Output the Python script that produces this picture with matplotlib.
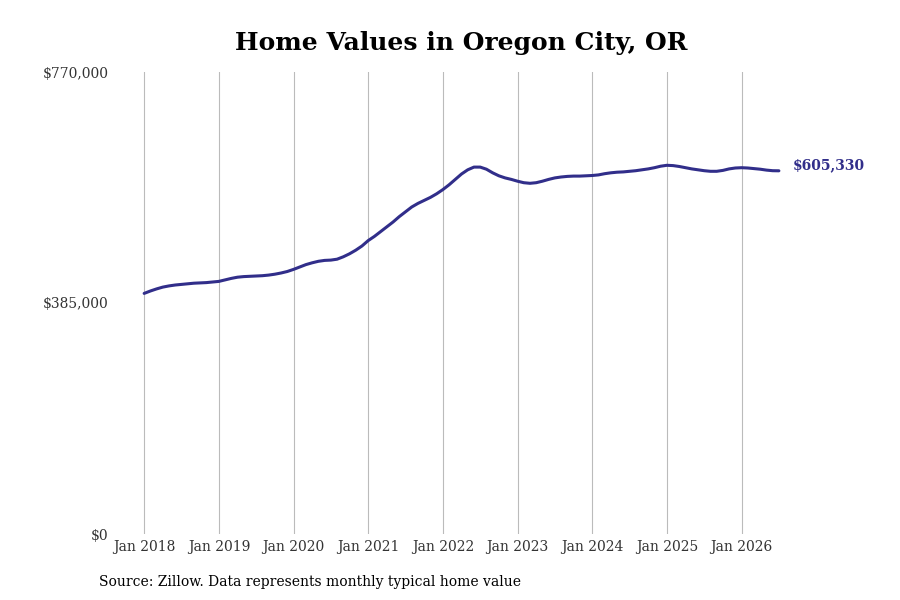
import numpy as np
import matplotlib
matplotlib.use("Agg")
import matplotlib.pyplot as plt

# valores mensuales (miles de USD), ene 2018 - jul 2026
v2018 = [401, 405, 408.5, 411.5, 413.5, 415, 416, 417, 418, 418.5, 419, 420]
v2019 = [421, 423.5, 426, 428, 429, 429.5, 430, 430.5, 431.5, 433, 435, 437.5]
v2020 = [441, 445, 449, 452, 454.5, 456, 456.5, 458, 462, 467, 473, 480]
v2021 = [489, 496, 504, 512, 520, 529, 537, 545, 551, 556, 561, 567]
v2022 = [574, 582, 591, 600, 607, 611.5, 611.5, 608, 602, 597, 593.5, 591]
v2023 = [588, 585.5, 584.5, 585.5, 588, 591, 593.5, 595, 596, 596.5, 596.5, 597]
v2024 = [597.5, 598.5, 600.5, 602, 603, 603.5, 604.5, 605.5, 607, 608.5, 610.5, 613]
v2025 = [614.5, 614, 612.5, 610.5, 608.5, 607, 605.5, 604.5, 604.5, 606, 608.5, 610]
v2026 = [610.5, 610, 609, 608, 606.5, 605.5, 605.33]

valores = np.array(v2018 + v2019 + v2020 + v2021 + v2022 + v2023 + v2024 + v2025 + v2026) * 1000
meses = np.arange(len(valores))  # meses desde ene 2018

anios = list(range(2018, 2027))
etiquetas_x = [f"Jan {a}" for a in anios]
ticks_y = [0, 385000, 770000]
ultimo = "$605,330"

color_linea = "#312e8a"

plt.rcParams['font.family'] = ['DejaVu Serif']

fig = plt.figure(figsize=(9, 6), dpi=100)
ax = fig.add_axes([0.1256, 0.11, 0.7744, 0.77])

ax.plot(meses, valores, color=color_linea, lw=2.2, solid_capstyle='round')

ax.set_ylim(0, 770000)
ax.set_xlim(-5, 107)
ax.set_yticks(ticks_y)
ax.set_yticklabels([f"${t:,.0f}" for t in ticks_y], fontsize=10, color="#333333")
ax.set_xticks([(a - 2018) * 12 for a in anios])
ax.set_xticklabels(etiquetas_x, fontsize=10, color="#333333")
ax.tick_params(axis='y', length=0, pad=3)
ax.tick_params(axis='x', length=0, pad=4)

ax.grid(axis='x', color="#bbbbbb", lw=0.8)
ax.grid(axis='y', visible=False)
for s in ax.spines.values():
    s.set_visible(False)

ax.text(meses[-1] + 2.2, valores[-1] + 9000, ultimo, color=color_linea,
        fontsize=10, fontweight='bold', va='center', ha='left')

fig.text(0.513, 0.928, "Home Values in Oregon City, OR", ha='center', va='center',
         fontsize=18, fontweight='bold')
fig.text(0.11, 0.03, "Source: Zillow. Data represents monthly typical home value",
         ha='left', va='center', fontsize=10)

plt.savefig("out.png", dpi=100)
